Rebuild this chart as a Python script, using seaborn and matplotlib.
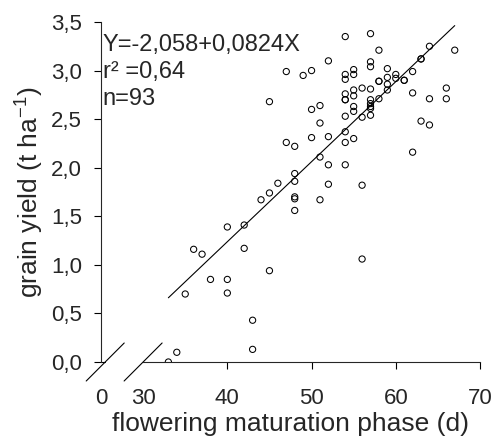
import numpy as np
import pandas as pd
import matplotlib
matplotlib.use('Agg')
import matplotlib.pyplot as plt
import seaborn as sns

# flowering-maturation phase (days) and grain yield (t/ha)
days = [33, 34, 35, 36, 37, 38, 40, 40, 40, 42, 42, 43, 43, 44, 45, 45, 45, 46,
        47, 47, 48, 48, 48, 48, 48, 48, 49, 50, 50, 50, 51, 51, 51, 51, 52, 52,
        52, 52, 54, 54, 54, 54, 54, 54, 54, 54, 54, 54, 55, 55, 55, 55, 55, 55,
        55, 56, 56, 56, 56, 57, 57, 57, 57, 57, 57, 57, 57, 57, 58, 58, 58, 58,
        59, 59, 59, 59, 60, 60, 61, 61, 62, 62, 62, 63, 63, 63, 64, 64, 64, 66,
        66, 67]
yield_t = [0.00, 0.10, 0.70, 1.16, 1.11, 0.85, 0.85, 0.71, 1.39, 1.17, 1.41, 0.43,
           0.13, 1.67, 0.94, 1.74, 2.68, 1.84, 2.26, 2.99, 2.22, 1.94, 1.86, 1.70,
           1.68, 1.56, 2.95, 2.31, 3.00, 2.60, 2.46, 2.11, 1.67, 2.64, 2.32, 2.03,
           1.83, 3.10, 2.37, 2.26, 2.03, 3.35, 2.96, 2.91, 2.76, 2.70, 2.70, 2.53,
           2.30, 3.01, 2.96, 2.80, 2.74, 2.63, 2.58, 1.82, 1.06, 2.82, 2.52, 3.38,
           3.09, 3.04, 2.81, 2.70, 2.66, 2.63, 2.61, 2.54, 3.21, 2.89, 2.89, 2.71,
           3.02, 2.93, 2.86, 2.80, 2.96, 2.92, 2.90, 2.90, 2.16, 2.99, 2.77, 2.48,
           3.12, 3.12, 2.44, 3.25, 2.71, 2.82, 2.71, 3.21]

# regression Y = a + bX drawn over the observed range
intercept = -2.058
slope = 0.0824
fit_range = [33, 67]

x_ticks = [25, 30, 40, 50, 60, 70]
x_tick_labels = ['0', '30', '40', '50', '60', '70']
y_ticks = [0.0, 0.5, 1.0, 1.5, 2.0, 2.5, 3.0, 3.5]
y_tick_labels = ['0,0', '0,5', '1,0', '1,5', '2,0', '2,5', '3,0', '3,5']
stats_lines = ['Y=-2,058+0,0824X', 'r\u00b2 =0,64', 'n=93']

df = pd.DataFrame({'days': days, 'yield': yield_t})
x_fit = np.array(fit_range, dtype=float)
y_fit = intercept + slope * x_fit

sns.set_style('ticks')
plt.rcParams['font.family'] = ['Liberation Sans', 'DejaVu Sans']
plt.rcParams['mathtext.default'] = 'regular'

fig = plt.figure(figsize=(4.97, 4.43), dpi=100)
ax = fig.add_axes([101 / 497, 1 - 362 / 443, 379 / 497, 340 / 443])

sns.scatterplot(data=df, x='days', y='yield', ax=ax, marker='o', s=20,
                facecolors='none', edgecolor='black', linewidth=0.75, zorder=3)
sns.lineplot(x=x_fit, y=y_fit, ax=ax, color='black', linewidth=0.8)

ax.set_xlim(25, 70)
ax.set_ylim(0, 3.5)
ax.set_xticks(x_ticks)
ax.set_xticklabels(x_tick_labels)
ax.set_yticks(y_ticks)
ax.set_yticklabels(y_tick_labels)
ax.tick_params(axis='both', direction='out', length=5, width=0.8,
               labelsize=16, color='black')
ax.tick_params(axis='x', pad=14)
ax.tick_params(axis='y', pad=8.5)
# no tick marks at the broken part of the x axis
for t in ax.xaxis.get_major_ticks()[:2]:
    t.tick1line.set_visible(False)

ax.set_xlabel('flowering maturation phase (d)', fontsize=19, labelpad=2)
ax.set_ylabel('grain yield (t ha$^{-1}$)', fontsize=19, labelpad=4)

sns.despine(ax=ax)
ax.spines['left'].set_linewidth(0.8)
ax.spines['bottom'].set_linewidth(0.8)
ax.spines['bottom'].set_bounds(30, 70)

# axis break: short stub at the origin plus two slashes
ax.plot([25, 25.5], [0, 0], color='black', lw=0.8, clip_on=False)
dx, dy = 19 / 8.42, 19 / 97.1
for xc in [25.5, 30]:
    ax.plot([xc - dx, xc + dx], [-dy, dy], color='black', lw=0.8, clip_on=False)

for txt, yy in zip(stats_lines, [0.915, 0.835, 0.756]):
    ax.text(0.005, yy, txt, transform=ax.transAxes, fontsize=17,
            ha='left', va='baseline')

fig.savefig('out.png', dpi=100)
